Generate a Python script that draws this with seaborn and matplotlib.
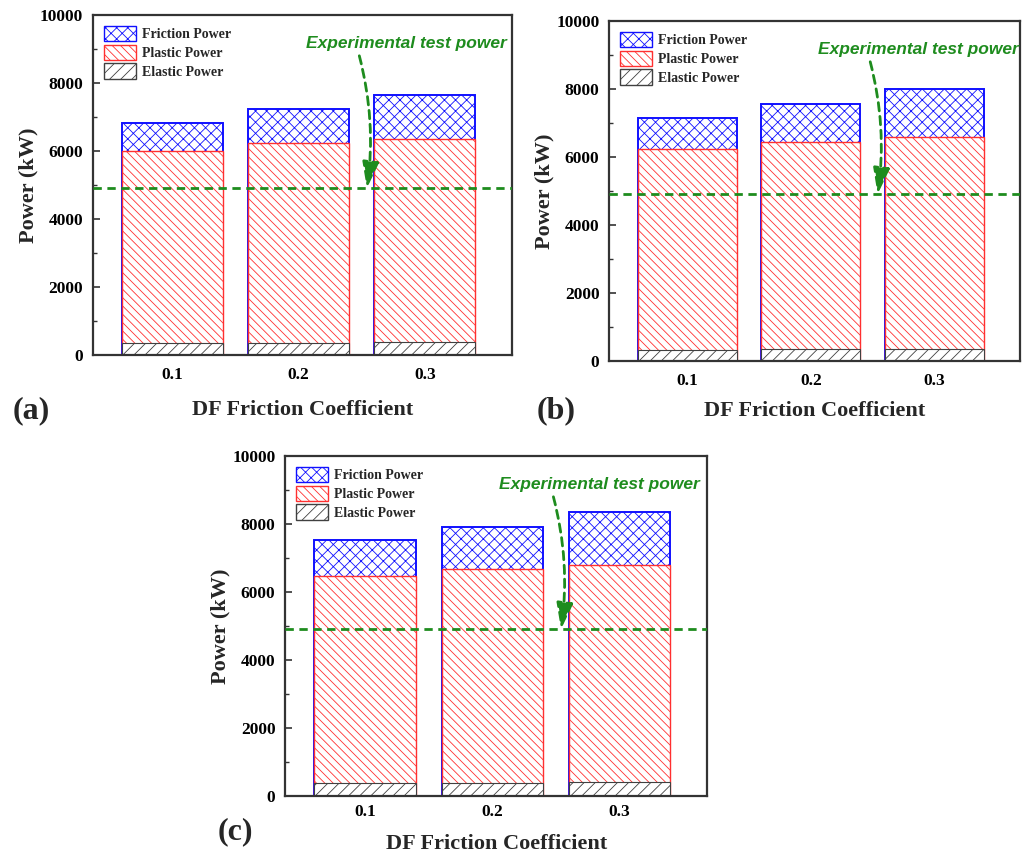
import numpy as np
import pandas as pd
import matplotlib
matplotlib.use("Agg")
import matplotlib.pyplot as plt
from matplotlib.patches import Patch
from matplotlib.ticker import MultipleLocator
import seaborn as sns

# Datos (kW)
coef = ["0.1", "0.2", "0.3"]
elastic_a = [340, 350, 370]
plastic_a = [5670, 5880, 5980]
friction_a = [810, 1010, 1300]

elastic_b = [330, 350, 360]
plastic_b = [5890, 6100, 6240]
friction_b = [920, 1120, 1390]

elastic_c = [370, 390, 400]
plastic_c = [6090, 6300, 6390]
friction_c = [1070, 1230, 1560]

test_power = 4900

sns.set_style("ticks")
plt.rcParams['font.family'] = ['Liberation Serif', 'DejaVu Serif']
plt.rcParams['font.weight'] = 'bold'
plt.rcParams['axes.labelweight'] = 'bold'
plt.rcParams['hatch.linewidth'] = 0.6

green = '#1e8c1e'
spine_c = '#333333'
blue_c, red_c, black_c = '#1010ff', '#ff3030', '#404040'
hatch_f, hatch_p, hatch_e = 'xxx', '\\' * 4, '///'

fig = plt.figure(figsize=(10.22, 8.55), dpi=100)
ax_a = fig.add_axes([0.091, 0.5848, 0.410, 0.3977])
ax_b = fig.add_axes([0.596, 0.5778, 0.402, 0.3977])
ax_c = fig.add_axes([0.279, 0.0690, 0.413, 0.3977])

# (eje, elastica, plastica, friccion, pad ticks x, pad etiqueta x)
panels = [
    (ax_a, elastic_a, plastic_a, friction_a, 9, 12),
    (ax_b, elastic_b, plastic_b, friction_b, 9, 8.5),
    (ax_c, elastic_c, plastic_c, friction_c, 6, 10),
]

for ax, el, pl, fr, xpad, lpad in panels:
    el = np.array(el)
    red_top = el + np.array(pl)
    total = red_top + np.array(fr)
    df = pd.DataFrame({"coef": coef, "elastic": el, "red_top": red_top, "total": total})

    # barras apiladas: se dibuja el total y encima las acumuladas con fondo blanco
    sns.barplot(data=df, x="coef", y="total", order=coef, ax=ax, color='white', saturation=1,
                errorbar=None, edgecolor=blue_c, hatch=hatch_f, linewidth=1.4, width=0.8)
    sns.barplot(data=df, x="coef", y="red_top", order=coef, ax=ax, color='white', saturation=1,
                errorbar=None, edgecolor=red_c, hatch=hatch_p, linewidth=1.0, width=0.8)
    sns.barplot(data=df, x="coef", y="elastic", order=coef, ax=ax, color='white', saturation=1,
                errorbar=None, edgecolor=black_c, hatch=hatch_e, linewidth=0.8, width=0.8)

    ax.axhline(test_power, color=green, lw=2, ls=(0, (3, 2)), zorder=5)

    ax.set_xlim(-0.63, 2.69)
    ax.set_ylim(0, 10000)
    ax.yaxis.set_major_locator(MultipleLocator(2000))
    ax.yaxis.set_minor_locator(MultipleLocator(1000))
    ax.tick_params(axis='both', which='both', direction='in', labelsize=12.5)
    ax.tick_params(axis='both', which='major', length=5, width=1.2, colors=spine_c, labelcolor='black')
    ax.tick_params(axis='x', which='major', pad=xpad)
    ax.tick_params(axis='y', which='major', pad=7)
    ax.tick_params(axis='y', which='minor', length=3, width=1.0, colors=spine_c)
    for s in ax.spines.values():
        s.set_linewidth(1.6)
        s.set_color(spine_c)

    ax.set_xlabel("DF Friction Coefficient", fontsize=16, fontweight='bold', labelpad=lpad)
    ax.set_ylabel("Power (kW)", fontsize=16, fontweight='bold', labelpad=1)

    handles = [
        Patch(facecolor='white', edgecolor=blue_c, hatch=hatch_f, label='Friction Power'),
        Patch(facecolor='white', edgecolor=red_c, hatch=hatch_p, label='Plastic Power'),
        Patch(facecolor='white', edgecolor=black_c, hatch=hatch_e, label='Elastic Power'),
    ]
    ax.legend(handles=handles, loc='upper left', frameon=False,
              prop={'size': 10, 'weight': 'bold'},
              handlelength=2.3, handleheight=1.3, labelspacing=0.25,
              handletextpad=0.4, borderaxespad=0.6, borderpad=0.2)

    ax.text(1.055, 9150, "Experimental test power", color=green, fontsize=12.5,
            family=['Liberation Sans', 'DejaVu Sans'], style='italic', weight='bold',
            ha='left', va='center', clip_on=False)
    ax.annotate("", xy=(1.54, test_power), xytext=(1.48, 8800),
                arrowprops=dict(arrowstyle='-|>,head_length=0.8,head_width=0.25',
                                color=green, lw=2, ls=(0, (3, 2)),
                                connectionstyle='arc3,rad=-0.1',
                                mutation_scale=20, shrinkA=0, shrinkB=0),
                zorder=6)

fig.text(0.012, 0.52, "(a)", fontsize=23, weight='bold', va='center')
fig.text(0.525, 0.52, "(b)", fontsize=23, weight='bold', va='center')
fig.text(0.213, 0.027, "(c)", fontsize=23, weight='bold', va='center')

fig.savefig("out.png", dpi=100)
